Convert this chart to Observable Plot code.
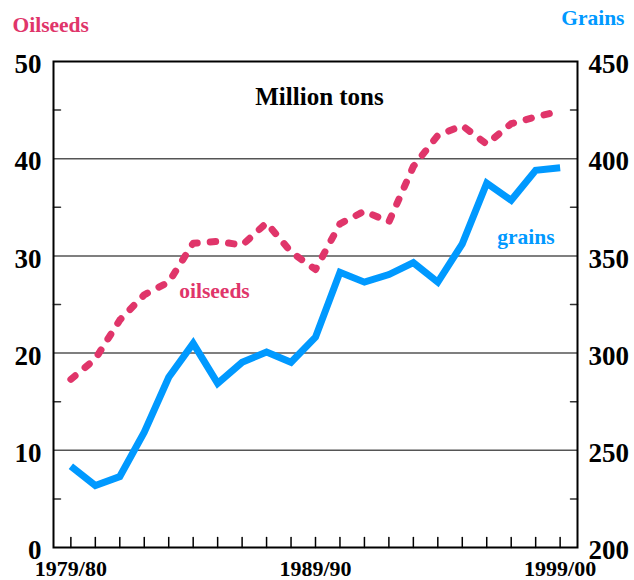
<!DOCTYPE html>
<html>
<head>
<meta charset="utf-8">
<script src="https://cdn.jsdelivr.net/npm/d3@7"></script>
<script src="https://cdn.jsdelivr.net/npm/@observablehq/plot@0.6"></script>
<style>
  html, body { margin: 0; padding: 0; background: #ffffff; }
  #chart svg { display: block; }
</style>
</head>
<body>
<div id="chart"></div>
<script>
// ---- data ----
const years = ["1979/80","1980/81","1981/82","1982/83","1983/84","1984/85","1985/86","1986/87","1987/88","1988/89",
               "1989/90","1990/91","1991/92","1992/93","1993/94","1994/95","1995/96","1996/97","1997/98","1998/99","1999/00"];
const oilseeds = [17.3, 19.4, 23.4, 26.0, 27.3, 31.3, 31.5, 31.1, 33.4, 30.4, 28.6, 33.3, 34.6, 33.5, 39.2, 42.4, 43.4, 41.5, 43.6, 44.3, 44.9];
const grains   = [241.8, 231.9, 236.5, 259.3, 287.6, 305.0, 284.4, 295.3, 300.5, 295.3, 308.2, 341.6, 336.5, 340.4, 346.5, 336.5, 356.2, 387.4, 378.6, 394.0, 395.3];
const xTickLabels = ["1979/80", "1989/90", "1999/00"];
const leftTicks = [0, 10, 20, 30, 40, 50];          // oilseeds, million tons
const rightTicks = [200, 250, 300, 350, 400, 450];  // grains, million tons
const leftMinor = [5, 15, 25, 35, 45];
const rightMinor = [225, 275, 325, 375, 425];
const seriesLabels = [
  {text: "oilseeds", x: 5.87, y: 26.4, series: "oilseeds"},
  {text: "grains",   x: 18.6, y: 359.8, series: "grains"}
];

const pink = "#e0356a";
const blue = "#0099ff";

// grains are drawn on the left (oilseeds) scale: 200..450 -> 0..50
const g2l = g => (g - 200) / 5;
const l2g = v => v * 5 + 200;

const rows = years.map((yr, i) => ({i, year: yr, oilseeds: oilseeds[i], grains: grains[i]}));
const tickLine = {draw(context, l) { context.moveTo(0, 0); context.lineTo(0, -l); }};

const font = "Liberation Serif, 'Times New Roman', serif";

const chart = Plot.plot({
  width: 634,
  height: 580,
  marginTop: 61,
  marginBottom: 33,
  marginLeft: 53,
  marginRight: 57,
  style: {fontFamily: font, fontWeight: "bold", background: "#fff", color: "#000", overflow: "visible"},
  x: {domain: [-0.71, 20.71], axis: null, label: null},
  y: {domain: [0, 50], axis: null, label: null},
  marks: [
    Plot.gridY([10, 20, 30, 40], {stroke: "#555", strokeOpacity: 1, strokeWidth: 1.5}),
    // minor ticks, left (pointing in)
    Plot.vector(leftMinor, {y: d => d, frameAnchor: "left", rotate: 90, length: 7, anchor: "start",
      shape: tickLine, stroke: "#333", strokeWidth: 1.5}),
    // minor ticks, right (pointing in)
    Plot.vector(rightMinor, {y: d => g2l(d), frameAnchor: "right", rotate: -90, length: 7, anchor: "start",
      shape: tickLine, stroke: "#333", strokeWidth: 1.5}),
    // year ticks on bottom (pointing up)
    Plot.vector(rows, {x: "i", frameAnchor: "bottom", rotate: 0, length: 10, anchor: "start",
      shape: tickLine, stroke: "#000", strokeWidth: 1.5}),
    Plot.frame({stroke: "#000", strokeWidth: 2}),
    // series
    Plot.line(rows, {x: "i", y: "oilseeds", stroke: pink, strokeWidth: 7,
      strokeDasharray: "5.5,13", strokeLinecap: "round", strokeLinejoin: "round"}),
    Plot.line(rows, {x: "i", y: d => g2l(d.grains), stroke: blue, strokeWidth: 7,
      strokeLinejoin: "miter", strokeMiterlimit: 4, strokeLinecap: "butt"}),
    // axes labels
    Plot.axisY({anchor: "left", ticks: leftTicks, tickSize: 0, tickPadding: 12, fontSize: 27, dy: 3,
      fill: "#000", label: null}),
    Plot.axisY({anchor: "right", ticks: rightTicks.map(g2l), tickFormat: d => String(l2g(d)),
      tickSize: 0, tickPadding: 11, fontSize: 27, dy: 3, fill: "#000", label: null}),
    Plot.axisX({anchor: "bottom", ticks: xTickLabels.map(t => years.indexOf(t)), tickFormat: i => years[i],
      tickSize: 0, tickPadding: 13, fontSize: 22, fill: "#000", label: null}),
    // titles
    Plot.text(["Oilseeds"], {frameAnchor: "top-left", dx: -41, dy: -36, textAnchor: "start",
      lineAnchor: "middle", fontSize: 21.5, fill: pink}),
    Plot.text(["Grains"], {frameAnchor: "top-right", dx: 47, dy: -43, textAnchor: "end",
      lineAnchor: "middle", fontSize: 21.5, fill: blue}),
    Plot.text(["Million tons"], {frameAnchor: "top", dx: 4, dy: 35, lineAnchor: "middle",
      fontSize: 25, fill: "#000"}),
    // series labels
    Plot.text(seriesLabels, {x: "x", y: d => d.series === "grains" ? g2l(d.y) : d.y, text: "text",
      fontSize: 21.5, fill: d => d.series === "grains" ? blue : pink})
  ]
});

document.getElementById("chart").appendChild(chart);
</script>
</body>
</html>
